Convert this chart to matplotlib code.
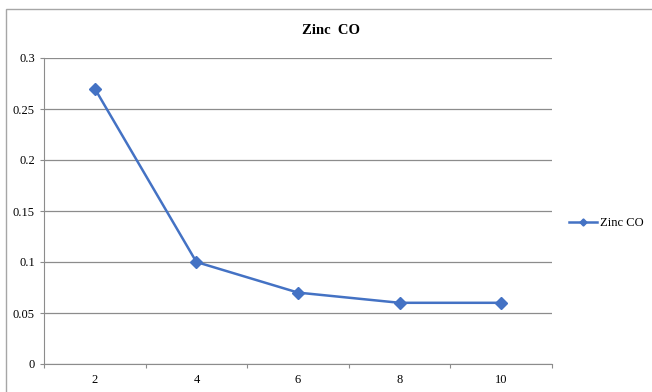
import matplotlib
matplotlib.use("Agg")
import matplotlib.pyplot as plt
from matplotlib.patches import Rectangle
import numpy as np

categories = ["2", "4", "6", "8", "10"]
zinc_co = [0.27, 0.10, 0.07, 0.06, 0.06]
y_ticks = [0, 0.05, 0.1, 0.15, 0.2, 0.25, 0.3]
y_labels = ["0", "0.05", "0.1", "0.15", "0.2", "0.25", "0.3"]

plt.rcParams["font.family"] = ["Liberation Serif", "DejaVu Serif"]

W, H = 652, 392
fig = plt.figure(figsize=(W / 100, H / 100), dpi=100)
ax = fig.add_axes([44 / W, 1 - 364 / H, (552 - 44) / W, (364 - 58) / H])

# chart frame
fig.patches.append(Rectangle((6 / W, -0.05), 1.0, 1 - 9 / H + 0.05,
                             transform=fig.transFigure, fill=False,
                             edgecolor="#a6a6a6", linewidth=1.0))

color = "#4472C4"
x = np.arange(len(categories))
ax.plot(x, zinc_co, color=color, linewidth=1.8, marker="D", markersize=6,
        label="Zinc CO")

ax.set_xlim(-0.5, len(categories) - 0.5)
ax.set_ylim(0, 0.3)
ax.set_yticks(y_ticks)
ax.set_yticklabels(y_labels, fontsize=9)
ax.yaxis.grid(True, color="#8c8c8c", linewidth=0.9)
ax.set_axisbelow(True)

# category boundaries as tick marks, labels centered on categories
ax.set_xticks(np.arange(-0.5, len(categories)), labels=[""] * (len(categories) + 1))
ax.set_xticks(x, labels=categories, minor=True)
ax.tick_params(axis="x", which="major", length=3, color="#8c8c8c")
ax.tick_params(axis="x", which="minor", length=0, labelsize=9, pad=7.5)
ax.tick_params(axis="y", length=3, color="#8c8c8c", labelsize=9, pad=3.5)

for side in ["top", "right"]:
    ax.spines[side].set_visible(False)
for side in ["left", "bottom"]:
    ax.spines[side].set_color("#8c8c8c")

fig.text(331 / W, 1 - 31 / H, "Zinc  CO", ha="center", va="center",
         fontsize=10.5, fontweight="bold")

fig.legend(loc="center left", bbox_to_anchor=(569 / W, 1 - 223 / H),
           frameon=False, fontsize=9, handlelength=2.2, handletextpad=0.3,
           borderpad=0, borderaxespad=0, markerscale=0.6)

fig.savefig("out.png", dpi=100)
